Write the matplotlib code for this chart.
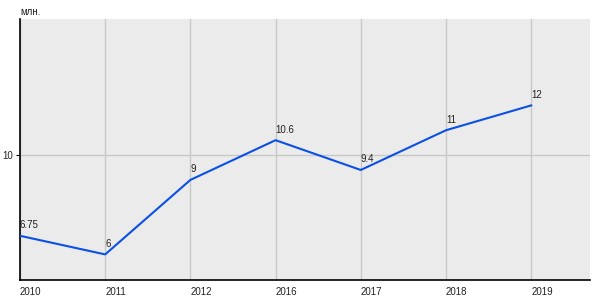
import matplotlib
matplotlib.use("Agg")
import matplotlib.pyplot as plt

plt.rcParams["font.family"] = ["Liberation Sans", "DejaVu Sans"]

# Chart data
years = ["2010", "2011", "2012", "2016", "2017", "2018", "2019"]
values = [6.75, 6, 9, 10.6, 9.4, 11, 12]
value_labels = ["6.75", "6", "9", "10.6", "9.4", "11", "12"]
y_ticks = [10]

fig = plt.figure(figsize=(6, 3), dpi=100)
ax = fig.add_axes([0.0333, 0.0667, 0.95, 0.87])
ax.set_facecolor("#ebebeb")

x = list(range(len(years)))
ax.plot(x, values, color="#0a50e6", linewidth=1.5, zorder=3)

# Value labels above the points
for xi, v, lab in zip(x, values, value_labels):
    ax.annotate(lab, (xi, v), xytext=(0, 4), textcoords="offset points",
                ha="left", va="bottom", fontsize=7, color="#222222", zorder=4)

ax.set_xlim(0, 6.69)
ax.set_ylim(4.97, 15.48)
ax.set_xticks(x)
ax.set_xticklabels(years, ha="left")
ax.set_yticks(y_ticks)
ax.tick_params(axis="x", length=0, pad=5, labelsize=7)
ax.tick_params(axis="y", length=3, pad=2, labelsize=7)
for lab in ax.get_xticklabels():
    lab.set_color("#222222")
    lab.set_x(lab.get_position()[0])
for lab in ax.get_yticklabels():
    lab.set_color("#222222")

ax.grid(True, color="#c8c8c8", linewidth=1)
ax.set_axisbelow(True)

for side in ["top", "right"]:
    ax.spines[side].set_visible(False)
for side in ["left", "bottom"]:
    ax.spines[side].set_color("black")
    ax.spines[side].set_linewidth(1.2)

fig.text(0.0333, 0.96, "млн.", fontsize=7, color="#222222", ha="left", va="center")

fig.savefig("out.png", dpi=100)
